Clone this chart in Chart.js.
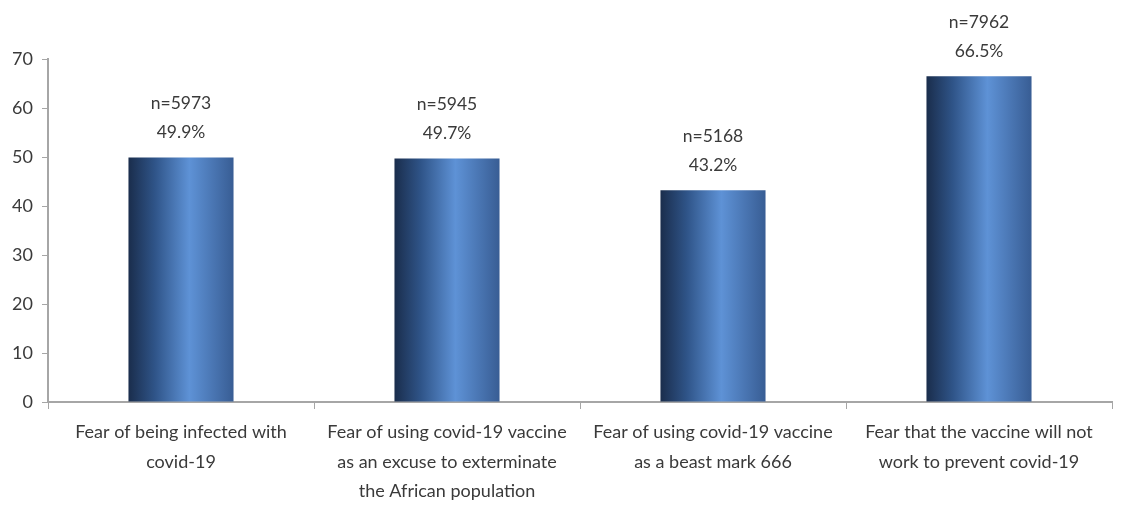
<!DOCTYPE html>
<html><head><meta charset="utf-8">
<script src="https://cdn.jsdelivr.net/npm/chart.js@4/dist/chart.umd.min.js"></script>
<style>html,body{margin:0;padding:0;background:#fff;}#wrap{width:1131px;height:516px;}</style>
</head><body><div id="wrap"><canvas id="c" width="1131" height="516"></canvas></div>
<script>
const categories = [
  ["Fear of being infected with", "covid-19"],
  ["Fear of using covid-19 vaccine", "as an excuse to exterminate", "the African population"],
  ["Fear of using covid-19 vaccine", "as a beast mark 666"],
  ["Fear that the vaccine will not", "work to prevent covid-19"]
];
const percents = [49.9, 49.7, 43.2, 66.5];
const counts = [5973, 5945, 5168, 7962];
const yTicks = [0, 10, 20, 30, 40, 50, 60, 70];

const FONT = "Lato, 'Open Sans', sans-serif";
const BAR_PCT = 0.395;

function barGradient(c) {
  const chart = c.chart;
  const s = chart.scales && chart.scales.x;
  if (!s || c.dataIndex === undefined) return '#4a78b8';
  const cx = s.getPixelForValue(c.dataIndex);
  const w = (s.width / categories.length) * BAR_PCT;
  if (!isFinite(cx) || !isFinite(w) || w <= 0) return '#4a78b8';
  const g = chart.ctx.createLinearGradient(cx - w / 2, 0, cx + w / 2, 0);
  g.addColorStop(0, '#1a2d4c');
  g.addColorStop(0.25, '#2f5488');
  g.addColorStop(0.58, '#5e92d6');
  g.addColorStop(1, '#385d94');
  return g;
}

const labelPlugin = {
  id: 'lbl',
  afterDatasetsDraw(chart) {
    const ctx = chart.ctx;
    ctx.save();
    ctx.font = "17.5px " + FONT;
    ctx.fillStyle = '#3a3a3a';
    ctx.textAlign = 'center';
    ctx.textBaseline = 'middle';
    chart.getDatasetMeta(0).data.forEach((el, i) => {
      ctx.fillText('n=' + counts[i], el.x, el.y - 54);
      ctx.fillText(percents[i].toFixed(1) + '%', el.x, el.y - 25);
    });
    ctx.restore();
  }
};

const chart = new Chart(document.getElementById('c'), {
  type: 'bar',
  data: {
    labels: categories,
    datasets: [{
      data: percents,
      backgroundColor: barGradient,
      borderWidth: 0,
      barPercentage: BAR_PCT,
      categoryPercentage: 1.0
    }]
  },
  options: {
    responsive: false,
    animation: false,
    devicePixelRatio: 1,
    layout: { padding: { left: 0, right: 19, top: 59, bottom: 0 } },
    plugins: { legend: { display: false }, tooltip: { enabled: false } },
    scales: {
      x: {
        grid: { display: true, drawOnChartArea: false, offset: true, color: '#a6a6a6', tickLength: 7, lineWidth: 1 },
        border: { display: true, color: '#a6a6a6', width: 2 },
        ticks: { color: '#3a3a3a', font: { family: FONT, size: 18, lineHeight: 1.62 }, maxRotation: 0, autoSkip: false, padding: 9 },
        afterFit(s) { s.height = 114; }
      },
      y: {
        min: 0, max: 70,
        afterBuildTicks(s) { s.ticks = yTicks.map(v => ({ value: v })); },
        grid: { display: true, drawOnChartArea: false, color: '#a6a6a6', tickLength: 6 },
        border: { display: true, color: '#a6a6a6', width: 2 },
        ticks: { color: '#3a3a3a', font: { family: FONT, size: 18 }, padding: 9 },
        afterFit(s) { s.width = 48; }
      }
    }
  },
  plugins: [labelPlugin]
});
chart.update();
</script></body></html>
